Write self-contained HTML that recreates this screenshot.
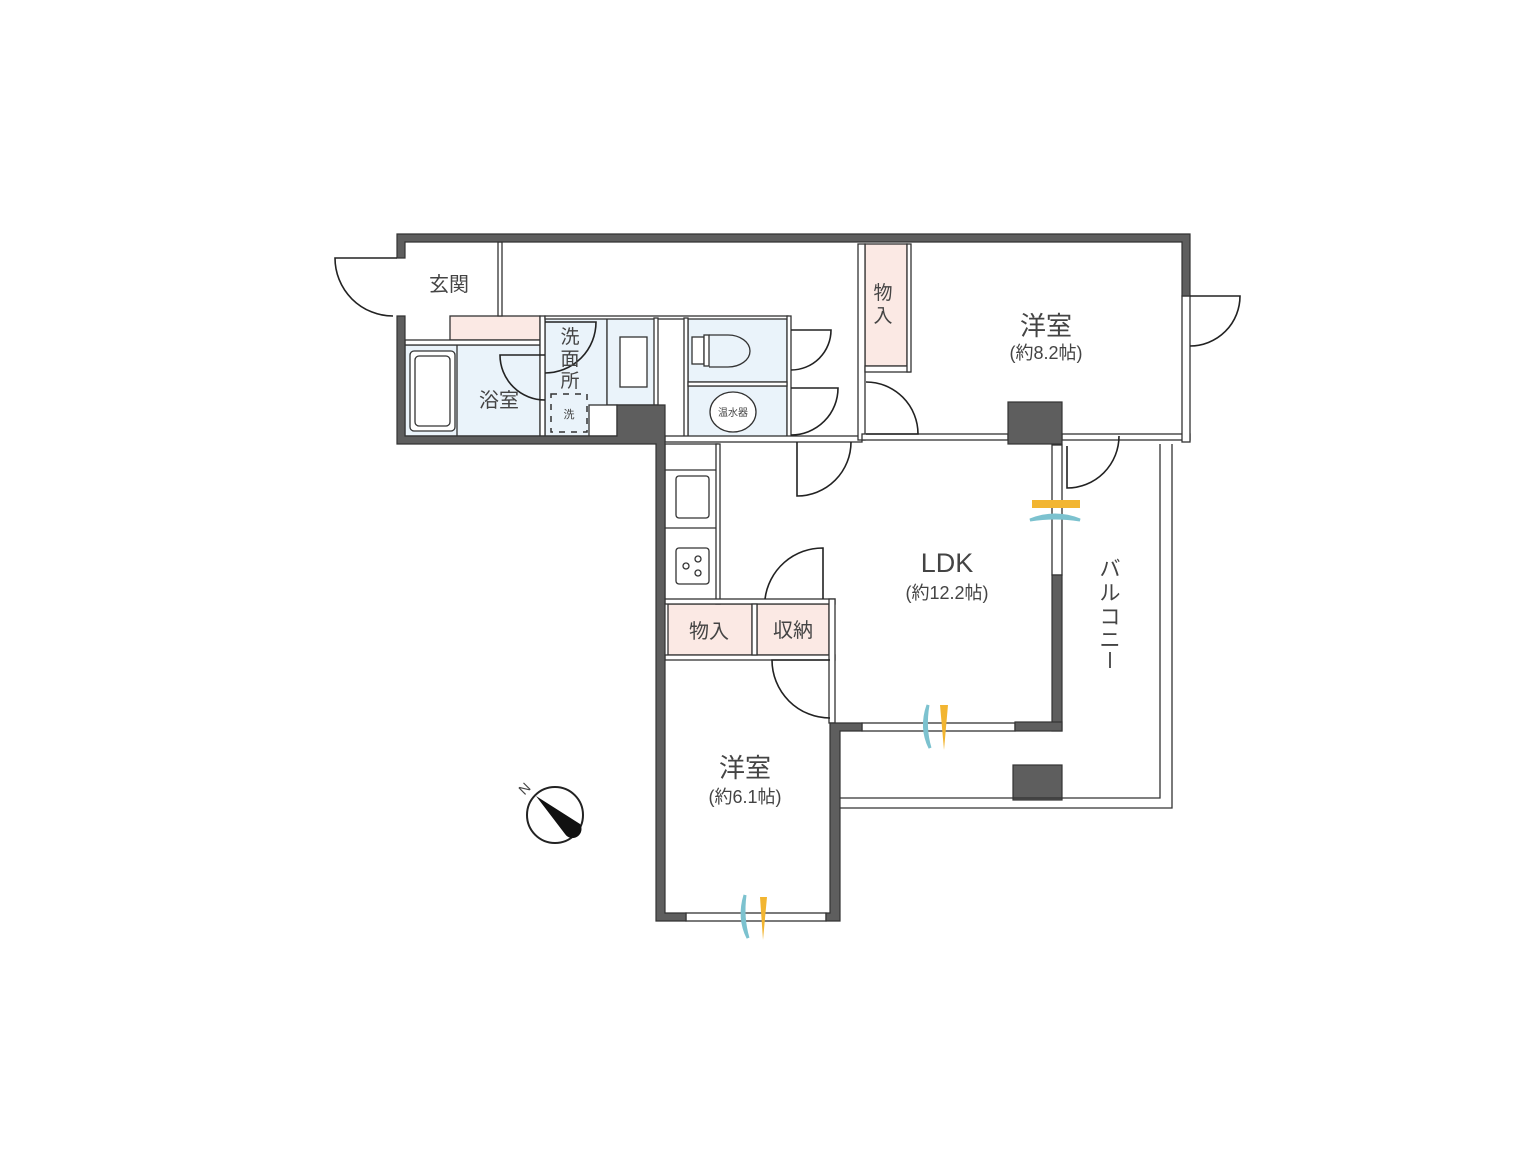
<!DOCTYPE html>
<html><head><meta charset="utf-8"><style>
html,body{margin:0;padding:0;background:#fff;}
svg{display:block;}
text{font-family:"Liberation Sans","Noto Sans CJK JP",sans-serif;fill:#444;}
.w{fill:#5e5e5e;stroke:#333;stroke-width:1.2;}
.t{fill:#fff;stroke:#333;stroke-width:1.3;}
.d{fill:none;stroke:#222;stroke-width:1.6;}
.b{fill:#eaf3fa;stroke:#333;stroke-width:1.3;}
.p{fill:#fbe9e4;stroke:#333;stroke-width:1.3;}
.l{fill:none;stroke:#333;stroke-width:1.3;}
</style></head><body>
<svg width="1530" height="1155" viewBox="0 0 1530 1155" xmlns="http://www.w3.org/2000/svg">
<rect x="405" y="345" width="135" height="91" class="b"/>
<rect x="545" y="318" width="62" height="118" class="b"/>
<rect x="607" y="318" width="48" height="87" class="b"/>
<rect x="688" y="318" width="99" height="64" class="b"/>
<rect x="688" y="386" width="99" height="54" class="b"/>
<rect x="410" y="351" width="45" height="80" rx="4" class="t"/>
<rect x="415" y="356" width="35" height="70" rx="4" class="l"/>
<line x1="457" y1="345" x2="457" y2="436" class="l"/>
<rect x="620" y="337" width="27" height="50" class="t"/>
<rect x="589" y="405" width="28" height="31" class="t"/>
<rect x="551" y="394" width="36" height="38" fill="none" stroke="#333" stroke-width="1.5" stroke-dasharray="6,6"/>
<text x="569" y="418" font-size="11" text-anchor="middle">洗</text>
<rect x="692" y="337" width="12" height="27" class="t"/>
<rect x="704" y="335" width="5" height="31" class="t"/>
<path d="M709 335 H728 A22 16 0 0 1 728 367 H709" class="l"/>
<ellipse cx="733" cy="412" rx="23" ry="20" class="t"/>
<text x="733" y="416" font-size="10" text-anchor="middle">温水器</text>
<rect x="450" y="316" width="90" height="24" class="p"/>
<rect x="865" y="244" width="42" height="122" class="p"/>
<rect x="668" y="604" width="84" height="51" class="p"/>
<rect x="757" y="604" width="72" height="51" class="p"/>
<rect x="665" y="444" width="53" height="156" class="t"/>
<line x1="665" y1="470" x2="718" y2="470" class="l"/>
<line x1="665" y1="528" x2="718" y2="528" class="l"/>
<rect x="676" y="476" width="33" height="42" rx="3" class="t"/>
<rect x="676" y="548" width="33" height="36" rx="3" class="t"/>
<circle cx="686" cy="566" r="3" class="l"/><circle cx="698" cy="559" r="3" class="l"/><circle cx="698" cy="573" r="3" class="l"/>
<rect x="498" y="242" width="4" height="74" class="t"/>
<rect x="405" y="340" width="135" height="5" class="t"/>
<rect x="540" y="316" width="5" height="120" class="t"/>
<rect x="545" y="316" width="243" height="3" class="t"/>
<rect x="654" y="318" width="4" height="87" class="t"/>
<rect x="684" y="318" width="4" height="122" class="t"/>
<rect x="787" y="316" width="4" height="124" class="t"/>
<rect x="688" y="382" width="99" height="4" class="t"/>
<rect x="665" y="436" width="197" height="6" class="t"/>
<rect x="716" y="444" width="4" height="160" class="t"/>
<rect x="858" y="244" width="7" height="196" class="t"/>
<rect x="865" y="366" width="45" height="6" class="t"/>
<rect x="907" y="244" width="4" height="128" class="t"/>
<rect x="862" y="434" width="146" height="6" class="t"/>
<rect x="1062" y="434" width="128" height="6" class="t"/>
<rect x="665" y="599" width="170" height="5" class="t"/>
<rect x="665" y="655" width="170" height="5" class="t"/>
<rect x="752" y="604" width="5" height="51" class="t"/>
<rect x="829" y="599" width="6" height="124" class="t"/>
<rect x="1182" y="296" width="8" height="146" class="t"/>
<rect x="862" y="723" width="153" height="8" class="t"/>
<rect x="686" y="913" width="140" height="8" class="t"/>
<rect x="1052" y="445" width="10" height="130" class="t"/>
<path class="w" d="M397 234 H1190 V296 H1182 V242 H405 V258 H397 Z"/>
<path class="w" d="M397 316 H405 V436 H617 V405 H665 V913 H686 V921 H656 V444 H397 Z"/>
<rect x="1008" y="402" width="54" height="42" class="w"/>
<rect x="1052" y="575" width="10" height="156" class="w"/>
<rect x="1015" y="722" width="47" height="9" class="w"/>
<path class="w" d="M830 723 H862 V731 H840 V921 H826 V913 H830 Z"/>
<rect x="1013" y="765" width="49" height="35" class="w"/>
<path class="l" d="M1160 444 V798 H840 M1172 444 V808 H840"/>
<path class="d" d="M397 258 H335 A58 58 0 0 0 393 316"/>
<path class="d" d="M1190 296 H1240 A50 50 0 0 1 1190 346"/>
<path class="d" d="M545 355 H500 A45 45 0 0 0 545 400" />
<path class="d" d="M545 322 H596 A51 51 0 0 1 545 373"/>
<path class="d" d="M791 330 H831 A40 40 0 0 1 791 370"/>
<path class="d" d="M791 388 H838 A47 47 0 0 1 791 435"/>
<path class="d" d="M797 442 V496 A54 54 0 0 0 851 442"/>
<path class="d" d="M866 382 A52 52 0 0 1 918 434 H866"/>
<path class="d" d="M1067 446 V488 A52 52 0 0 0 1119 436"/>
<path class="d" d="M823 599 V548 A58 58 0 0 0 765 599"/>
<path class="d" d="M830 718 A58 58 0 0 1 772 660 H830"/>
<path d="M1032 500 H1080 L1080 508 H1032 Z" fill="#f2b531"/>
<path d="M1030 520 Q1055 510 1080 520 Q1055 516 1030 520Z" fill="#7cc2cf" stroke="#7cc2cf" stroke-width="3"/>
<path d="M940 705 L944 750 L948 705 Z" fill="#f2b531"/>
<path d="M928 705 Q920 728 930 748 Q924 728 928 705Z" fill="#7cc2cf" stroke="#7cc2cf" stroke-width="3"/>
<path d="M760 897 L763 940 L767 897 Z" fill="#f2b531"/>
<path d="M745 895 Q738 918 748 938 Q742 918 745 895Z" fill="#7cc2cf" stroke="#7cc2cf" stroke-width="3"/>
<circle cx="555" cy="815" r="28" fill="#fff" stroke="#222" stroke-width="2"/>
<path d="M536 796 L580 824 A8 8 0 0 1 565 834 Z" fill="#111"/>
<text x="528" y="792" font-size="14" transform="rotate(-45 528 792)" text-anchor="middle" fill="#222">N</text>
<text x="449" y="291" font-size="20" text-anchor="middle">玄関</text>
<text x="499" y="407" font-size="20" text-anchor="middle">浴室</text>
<text x="570" y="343" font-size="19" text-anchor="middle">洗</text>
<text x="570" y="365" font-size="19" text-anchor="middle">面</text>
<text x="570" y="387" font-size="19" text-anchor="middle">所</text>
<text x="883" y="299" font-size="19" text-anchor="middle">物</text>
<text x="883" y="322" font-size="19" text-anchor="middle">入</text>
<text x="1046" y="335" font-size="26" text-anchor="middle">洋室</text>
<text x="1046" y="359" font-size="18" text-anchor="middle">(約8.2帖)</text>
<text x="947" y="572" font-size="27" text-anchor="middle">LDK</text>
<text x="947" y="599" font-size="18" text-anchor="middle">(約12.2帖)</text>
<text x="709" y="638" font-size="20" text-anchor="middle">物入</text>
<text x="793" y="637" font-size="20" text-anchor="middle">収納</text>
<text x="745" y="777" font-size="26" text-anchor="middle">洋室</text>
<text x="745" y="803" font-size="18" text-anchor="middle">(約6.1帖)</text>
<text x="1110" y="576" font-size="21" text-anchor="middle">バ</text>
<text x="1110" y="600" font-size="21" text-anchor="middle">ル</text>
<text x="1110" y="624" font-size="21" text-anchor="middle">コ</text>
<text x="1110" y="647" font-size="21" text-anchor="middle">ニ</text>
<text x="1110" y="666" font-size="1" fill="#fff" text-anchor="middle">ー</text>
<line x1="1110" y1="652" x2="1110" y2="668" stroke="#444" stroke-width="1.8"/>
</svg>
</body></html>
